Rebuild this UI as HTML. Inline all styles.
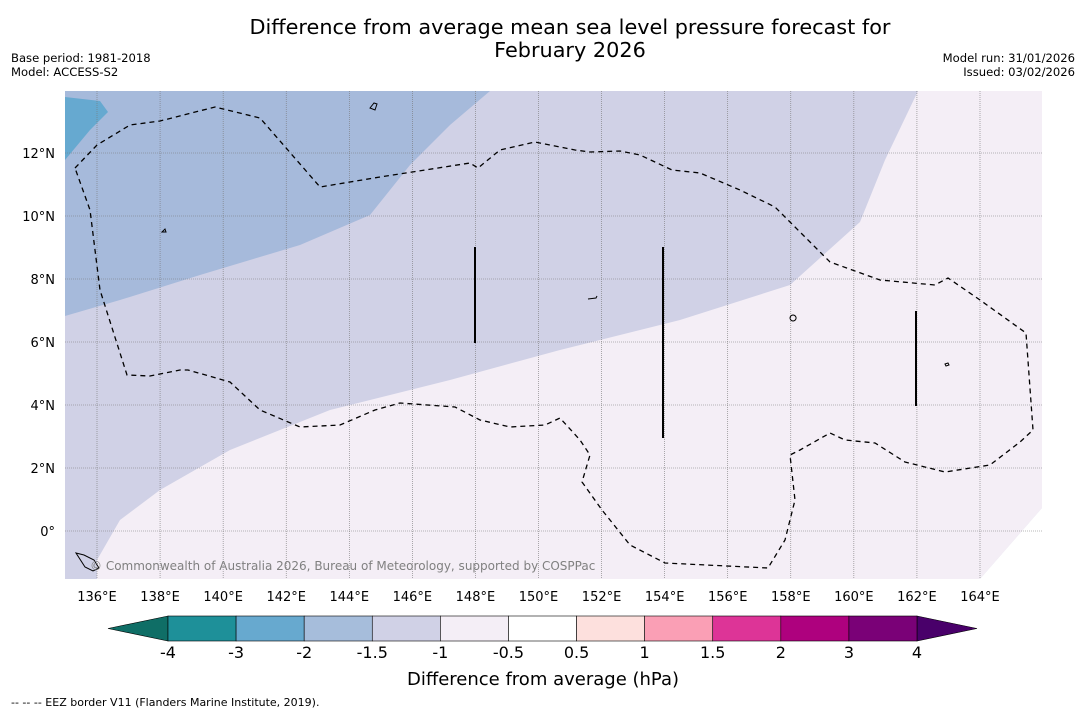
<!DOCTYPE html>
<html><head><meta charset="utf-8">
<style>
body{margin:0;background:#fff;font-family:"DejaVu Sans","Liberation Sans",sans-serif;}
svg{display:block;font-family:"DejaVu Sans","Liberation Sans",sans-serif;}
</style></head>
<body>
<svg id="chart" width="1085" height="713" xmlns="http://www.w3.org/2000/svg">
<text x="570" y="34" font-size="20.8" text-anchor="middle">Difference from average mean sea level pressure forecast for</text>
<text x="570" y="57" font-size="20.8" text-anchor="middle">February 2026</text>
<text x="11" y="62" font-size="11.6">Base period: 1981-2018</text>
<text x="11" y="76" font-size="11.6">Model: ACCESS-S2</text>
<text x="1075" y="62" font-size="11.6" text-anchor="end">Model run: 31/01/2026</text>
<text x="1075" y="76" font-size="11.6" text-anchor="end">Issued: 03/02/2026</text>
<defs><clipPath id="mapclip"><rect x="65" y="91" width="977" height="488"/></clipPath></defs>
<g clip-path="url(#mapclip)">
<rect x="65" y="91" width="977" height="488" fill="#d0d1e6"/>
<path d="M65,91 L490,91 L450,125 L410,165 L370,215 L300,245 L200,275 L120,300 L65,316 Z" fill="#a6badb"/>
<path d="M65,97 L100,101 L108,112 L90,130 L65,160 Z" fill="#66a9d0"/>
<path d="M97,560 L120,520 L160,490 L230,450 L330,410 L450,380 L560,350 L680,320 L790,285 L860,222 L885,160 L918,91 L1042,91 L1042,508 L980,579 L97,579 Z" fill="#f4eef6"/>
<path d="M1042,508 L1042,579 L980,579 Z" fill="#fff"/>
<path d="M65,545 L97,545 L97,579 L65,579 Z" fill="#d0d1e6"/>
<g id="grid"></g>
<path d="M75,168 L97,145 L130,125 L160,121 L215,107 L260,118 L320,187 L380,177 L470,163 L478,168 L500,150 L535,142 L575,150 L590,152 L620,151 L640,155 L672,170 L700,173 L740,190 L775,207 L830,262 L880,280 L935,285 L948,278 L980,300 L1026,333 L1033,430 L1020,442 L990,465 L945,472 L905,462 L875,443 L845,440 L830,433 L800,450 L790,455 L795,500 L785,540 L768,568 L665,563 L630,545 L602,510 L582,482 L590,455 L580,440 L560,418 L545,425 L510,427 L480,420 L455,407 L400,403 L375,410 L340,425 L300,427 L260,410 L230,382 L188,370 L180,370 L150,376 L127,375 L100,290 L90,210 Z" fill="none" stroke="#000" stroke-width="1.3" stroke-dasharray="5,4"/>
<line x1="475" y1="247" x2="475" y2="343" stroke="#000" stroke-width="2"/>
<line x1="663" y1="247" x2="663" y2="438" stroke="#000" stroke-width="2"/>
<line x1="916" y1="311" x2="916" y2="406" stroke="#000" stroke-width="2"/>
<path d="M370,108 l4,-5 l3,1 l-2,6z M162,232 l3,-3 l1,3z M588,299 l8,-1 l1,-2 l-1,2z M793,315 a3,3 0 1,0 0.1,0z M945,364 l3,-1 l1,2 l-3,1z M76,553 l8,2 l10,5 l5,8 l-6,3 l-8,-4z" fill="none" stroke="#000" stroke-width="1"/>
<text x="90" y="570" font-size="12" fill="#808080">© Commonwealth of Australia 2026, Bureau of Meteorology, supported by COSPPac</text>
</g>
<g id="axes"></g>
<g id="cbar"></g>
<text x="543" y="685" font-size="18" text-anchor="middle">Difference from average (hPa)</text>
<text x="11" y="706" font-size="11">--  --  -- EEZ border V11 (Flanders Marine Institute, 2019).</text>
</svg>
<script>
const lonTicks=[136,138,140,142,144,146,148,150,152,154,156,158,160,162,164];
const latTicks=[0,2,4,6,8,10,12];
const cbarLevels=["-4","-3","-2","-1.5","-1","-0.5","0.5","1","1.5","2","3","4"];
const cbarColors=["#1e9099","#67a9cf","#a6bddb","#d0d1e6","#f4eef6","#ffffff","#fde0dd","#fa9fb5","#dd3497","#ae017e","#7a0177"];
const NS="http://www.w3.org/2000/svg";
function xLon(l){return 97+(l-136)*(980-97)/28;}
function yLat(l){return 531-l*(531-153)/12;}
function mk(t,a,p){const e=document.createElementNS(NS,t);for(const k in a)e.setAttribute(k,a[k]);p.appendChild(e);return e;}
const grid=document.getElementById('grid'),axes=document.getElementById('axes'),cbar=document.getElementById('cbar');
lonTicks.forEach(l=>{
 const g=mk('line',{x1:xLon(l),x2:xLon(l),y1:91,y2:579,stroke:'#777','stroke-width':0.6,'stroke-dasharray':'1,1'},grid);
 
 
 const t=mk('text',{x:xLon(l),y:601,'font-size':13,'text-anchor':'middle'},axes);
 t.textContent=l+'°E';
 
 
});
latTicks.forEach(l=>{
 const g=mk('line',{x1:65,x2:1042,y1:yLat(l),y2:yLat(l),stroke:'#777','stroke-width':0.6,'stroke-dasharray':'1,1'},grid);
 
 
 const t=mk('text',{x:55,y:yLat(l)+5,'font-size':13,'text-anchor':'end'},axes);
 t.textContent=l===0?'0°':l+'°N';
 
 
});
const cx0=168,cx1=917,cy=616,ch=25,n=cbarColors.length,w=(cx1-cx0)/n;
const la=mk('path',{d:`M${cx0},${cy} L108,${cy+ch/2} L${cx0},${cy+ch} Z`,fill:'#0f6e66',stroke:'#000','stroke-width':0.6},cbar);


const ra=mk('path',{d:`M${cx1},${cy} L977,${cy+ch/2} L${cx1},${cy+ch} Z`,fill:'#49006a',stroke:'#000','stroke-width':0.6},cbar);


cbarColors.forEach((c,i)=>{
 const r=mk('rect',{x:cx0+i*w,y:cy,width:w,height:ch,fill:c,stroke:'#000','stroke-width':0.6},cbar);
 
 
});
cbarLevels.forEach((s,i)=>{
 const t=mk('text',{x:cx0+i*w,y:658,'font-size':16,'text-anchor':'middle'},cbar);
 t.textContent=s;
 
 
});
</script>
</body></html>
